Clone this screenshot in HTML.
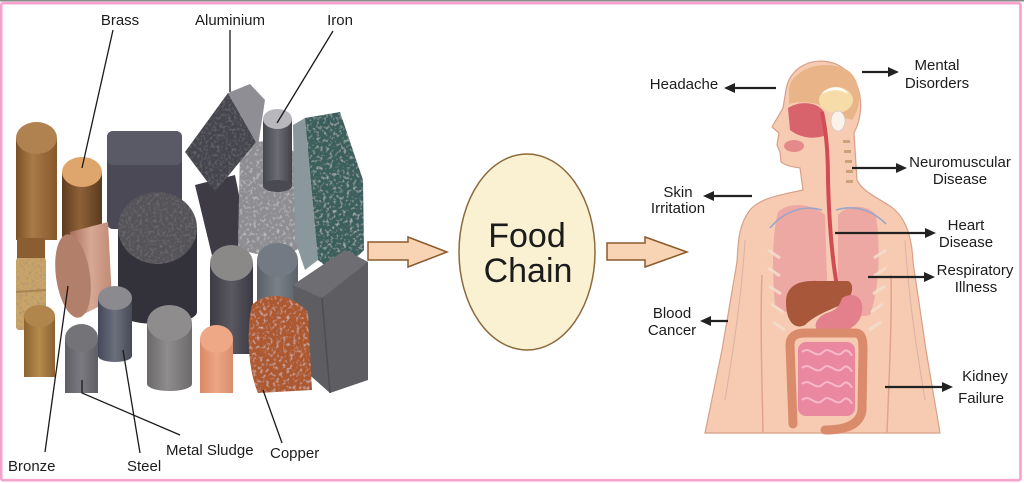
<!DOCTYPE html>
<html><head><meta charset="utf-8"><style>
html,body{margin:0;padding:0;background:#fff;}
body{width:1024px;height:483px;overflow:hidden;}
svg{display:block;}
text{font-family:"Liberation Sans",Arial,sans-serif;fill:#1c1c1c;}
</style></head><body>
<svg width="1024" height="483" viewBox="0 0 1024 483" xmlns="http://www.w3.org/2000/svg">
<defs>
<filter id="rough" x="0" y="0" width="100%" height="100%">
<feTurbulence type="fractalNoise" baseFrequency="0.35" numOctaves="2" seed="4" result="t"/>
<feColorMatrix in="t" type="matrix" values="0 0 0 0 0.22  0 0 0 0 0.22  0 0 0 0 0.22  1.3 0 0 0 -0.6" result="m"/>
<feComposite in="m" in2="SourceGraphic" operator="in" result="c"/>
<feMerge><feMergeNode in="SourceGraphic"/><feMergeNode in="c"/></feMerge>
</filter>
<filter id="light" x="0" y="0" width="100%" height="100%">
<feTurbulence type="fractalNoise" baseFrequency="0.3" numOctaves="2" seed="9" result="t"/>
<feColorMatrix in="t" type="matrix" values="0 0 0 0 0.92  0 0 0 0 0.92  0 0 0 0 0.92  1.2 0 0 0 -0.62" result="m"/>
<feComposite in="m" in2="SourceGraphic" operator="in" result="c"/>
<feMerge><feMergeNode in="SourceGraphic"/><feMergeNode in="c"/></feMerge>
</filter>
<linearGradient id="gBr1" x1="0" x2="1"><stop offset="0" stop-color="#7b5026"/><stop offset=".4" stop-color="#a97a47"/><stop offset="1" stop-color="#85582c"/></linearGradient>
<linearGradient id="gBrass" x1="0" x2="1"><stop offset="0" stop-color="#5e3c20"/><stop offset=".45" stop-color="#8e6238"/><stop offset="1" stop-color="#5a3a1e"/></linearGradient>
<linearGradient id="gBronze" x1="0" x2="1"><stop offset="0" stop-color="#a9705c"/><stop offset=".5" stop-color="#d7a894"/><stop offset="1" stop-color="#c08a76"/></linearGradient>
<linearGradient id="gSteel" x1="0" x2="1"><stop offset="0" stop-color="#44485a"/><stop offset=".5" stop-color="#6c707c"/><stop offset="1" stop-color="#474a56"/></linearGradient>
<linearGradient id="gIron" x1="0" x2="1"><stop offset="0" stop-color="#45454d"/><stop offset=".5" stop-color="#6c6c74"/><stop offset="1" stop-color="#42424a"/></linearGradient>
<linearGradient id="gGray" x1="0" x2="1"><stop offset="0" stop-color="#6a6868"/><stop offset=".45" stop-color="#8e8c8c"/><stop offset="1" stop-color="#6c6a6a"/></linearGradient>
<linearGradient id="gDark" x1="0" x2="1"><stop offset="0" stop-color="#3c3a42"/><stop offset=".5" stop-color="#5a5860"/><stop offset="1" stop-color="#3a3840"/></linearGradient>
<linearGradient id="gOr" x1="0" x2="1"><stop offset="0" stop-color="#d88a66"/><stop offset=".5" stop-color="#eea584"/><stop offset="1" stop-color="#d88e6c"/></linearGradient>
<linearGradient id="gSl" x1="0" x2="1"><stop offset="0" stop-color="#5e5e64"/><stop offset=".5" stop-color="#7a7a80"/><stop offset="1" stop-color="#5e5e64"/></linearGradient>
<linearGradient id="gBl" x1="0" x2="1"><stop offset="0" stop-color="#5a6068"/><stop offset=".5" stop-color="#7a8088"/><stop offset="1" stop-color="#5c6268"/></linearGradient>
<linearGradient id="gBr2" x1="0" x2="1"><stop offset="0" stop-color="#8d6430"/><stop offset=".5" stop-color="#b58a4c"/><stop offset="1" stop-color="#8a6230"/></linearGradient>
</defs>

<rect width="1024" height="483" fill="#fff"/>
<rect x="0" y="0" width="1024" height="1.5" fill="#8a8a8a"/>
<rect x="1.2" y="3.2" width="1019.3" height="477" rx="2" fill="none" stroke="#f7a2cc" stroke-width="2.6"/>

<!-- ===== METALS ===== -->
<rect x="16" y="138" width="41" height="102" fill="url(#gBr1)"/>
<ellipse cx="36.5" cy="138" rx="20.5" ry="16" fill="#b0824f"/>
<rect x="17" y="238" width="28" height="22" fill="#8a5e30"/>
<rect x="16" y="258" width="30" height="72" rx="3" fill="#c9a468" filter="url(#rough)"/>
<line x1="16" y1="292" x2="46" y2="290" stroke="#a88450" stroke-width="2"/>
<!-- dark gray block -->
<rect x="107" y="131" width="75" height="98" rx="6" fill="#4a4955"/>
<rect x="107" y="131" width="75" height="34" rx="6" fill="#5a5966"/>
<!-- dark lying cylinder -->
<polygon points="195,185 235,175 250,250 215,268" fill="#3e3b45"/>
<!-- crumpled gray -->
<path d="M240,150 C255,135 290,140 300,160 L302,246 C290,258 250,258 238,246 Z" fill="#8e8e92" filter="url(#light)"/>
<!-- aluminium block -->
<polygon points="185,152 228,93 256,142 215,192" fill="#45444e" filter="url(#rough)"/>
<polygon points="228,93 250,84 265,100 258,146 256,142" fill="#8e8e94"/>
<!-- iron cylinder -->
<rect x="263" y="119" width="29" height="67" fill="url(#gIron)"/>
<ellipse cx="277.5" cy="186" rx="14.5" ry="6" fill="#4a4a52"/>
<ellipse cx="277.5" cy="119" rx="14.5" ry="10" fill="#b8b8bc"/>
<!-- green crystal block -->
<polygon points="293,125 305,118 318,260 305,270 295,240" fill="#8a979c"/>
<polygon points="305,118 340,112 363,180 364,250 338,276 318,260" fill="#3a5e5c" filter="url(#light)"/>
<!-- brass -->
<rect x="62" y="172" width="40" height="70" fill="url(#gBrass)"/>
<ellipse cx="82" cy="172" rx="20" ry="15" fill="#dea66c"/>
<!-- graphite sponge -->
<path d="M118,228 L118,312 A39.5,12 0 0 0 197,312 L197,228 Z" fill="#33313a"/>
<ellipse cx="157.5" cy="228" rx="39.5" ry="36" fill="#555258" filter="url(#rough)"/>
<!-- bronze lying cylinder -->
<polygon points="70,232 108,222 112,300 76,318" fill="url(#gBronze)"/>
<ellipse cx="73" cy="276" rx="17" ry="42" transform="rotate(-8 73 276)" fill="#b27f6a"/>
<!-- blue-gray cylinder -->
<rect x="257" y="260" width="41" height="48" fill="url(#gBl)"/>
<ellipse cx="277.5" cy="260" rx="20.5" ry="17" fill="#737a83"/>
<!-- gray block bottom right -->
<polygon points="293,285 345,250 368,262 368,380 330,393 295,362" fill="#5e5d62"/>
<polygon points="293,285 345,250 368,262 322,298" fill="#6e6d72"/>
<line x1="322" y1="298" x2="330" y2="393" stroke="#4e4d52" stroke-width="1.5"/>
<!-- dark cylinder -->
<rect x="210" y="263" width="43" height="91" fill="url(#gDark)"/>
<ellipse cx="231.5" cy="263" rx="21.5" ry="18" fill="#8a8988"/>
<!-- brown cylinder lower left -->
<rect x="24" y="316" width="31" height="61" fill="url(#gBr2)"/>
<ellipse cx="39.5" cy="316" rx="15.5" ry="11" fill="#b0864c"/>
<!-- steel -->
<path d="M98,298 L98,356 A17,6 0 0 0 132,356 L132,298 Z" fill="url(#gSteel)"/>
<ellipse cx="115" cy="298" rx="17" ry="12" fill="#8b8b8f"/>
<!-- gray cylinder -->
<path d="M147,323 L147,384 A22.5,7 0 0 0 192,384 L192,323 Z" fill="url(#gGray)"/>
<ellipse cx="169.5" cy="323" rx="22.5" ry="18" fill="#8e8c8c"/>
<!-- metal sludge cylinder -->
<rect x="65" y="338" width="33" height="55" fill="url(#gSl)"/>
<ellipse cx="81.5" cy="338" rx="16.5" ry="14" fill="#747478"/>
<!-- orange cylinder -->
<rect x="200" y="339" width="33" height="54" fill="url(#gOr)"/>
<ellipse cx="216.5" cy="339" rx="16.5" ry="14" fill="#efa886"/>
<!-- copper crumpled -->
<path d="M252,305 C265,292 290,292 308,312 L312,390 L258,393 C248,370 246,330 252,305 Z" fill="#ad582f" filter="url(#light)"/>

<!-- left connector lines -->
<g stroke="#1a1a1a" stroke-width="1.3" fill="none">
<line x1="113" y1="30" x2="82" y2="168"/>
<line x1="230" y1="30" x2="230" y2="92"/>
<line x1="333" y1="31" x2="277" y2="123"/>
<line x1="45" y1="452" x2="68" y2="286"/>
<line x1="140" y1="453" x2="123" y2="350"/>
<polyline points="82,380 82,393 180,435"/>
<line x1="282" y1="443" x2="263" y2="390"/>
</g>

<!-- left labels -->
<g font-size="15">
<text x="120" y="25" text-anchor="middle">Brass</text>
<text x="230" y="25" text-anchor="middle">Aluminium</text>
<text x="340" y="25" text-anchor="middle">Iron</text>
<text x="8" y="471">Bronze</text>
<text x="127" y="471">Steel</text>
<text x="166" y="455">Metal Sludge</text>
<text x="270" y="458">Copper</text>
</g>

<!-- ===== CENTER ===== -->
<polygon points="368,242 408,242 408,237 447,252 408,267 408,260 368,260" fill="#f9d4b4" stroke="#8b5a2b" stroke-width="1.5"/>
<ellipse cx="527" cy="252" rx="68" ry="98" fill="#faf0d2" stroke="#8c6a3c" stroke-width="1.5"/>
<text x="527" y="247" text-anchor="middle" font-size="34" fill="#111">Food</text>
<text x="528" y="282" text-anchor="middle" font-size="34" fill="#111">Chain</text>
<polygon points="607,243 645,243 645,237 687,252 645,267 645,260 607,260" fill="#f9d4b4" stroke="#8b5a2b" stroke-width="1.5"/>

<!-- ===== BODY ===== -->
<path d="M800,168 L803,190 C780,195 760,198 750,210 C738,225 738,245 737,262 L722,350 L705,433 L940,433 L926,350 L913,262 C912,235 905,216 890,206 C876,197 862,191 857,180 L854,133 C866,110 863,76 836,64 C812,55 789,68 786,90 L783,108 L772,127 L779,133 L777,145 L780,152 L781,162 C788,167 795,167 800,168 Z" fill="#f6cbb1" stroke="#d8a088" stroke-width="1.2"/>
<path d="M762,275 C760,320 762,380 763,433" stroke="#e0a48a" stroke-width="1.5" fill="none"/>
<path d="M891,275 C892,320 889,380 887,433" stroke="#e0a48a" stroke-width="1.5" fill="none"/>
<path d="M745,240 C742,290 735,340 725,400" stroke="#d9b2a8" stroke-width="1" fill="none"/>
<path d="M905,240 C908,290 915,340 925,400" stroke="#d9b2a8" stroke-width="1" fill="none"/>
<!-- lungs -->
<path d="M778,212 C790,200 815,205 825,215 L828,310 C810,318 790,318 775,305 C772,270 772,235 778,212 Z" fill="#eba2a2" opacity=".85"/>
<path d="M838,215 C848,203 868,205 876,215 C881,250 879,290 870,315 C855,318 842,315 838,305 Z" fill="#eba2a2" opacity=".85"/>
<!-- ribs -->
<g stroke="#f3dccc" stroke-width="3" opacity=".9">
<line x1="768" y1="250" x2="780" y2="258"/><line x1="768" y1="268" x2="780" y2="276"/><line x1="769" y1="286" x2="781" y2="294"/><line x1="771" y1="304" x2="783" y2="312"/><line x1="773" y1="322" x2="785" y2="330"/>
<line x1="886" y1="250" x2="874" y2="258"/><line x1="886" y1="268" x2="874" y2="276"/><line x1="885" y1="286" x2="873" y2="294"/><line x1="883" y1="304" x2="871" y2="312"/><line x1="881" y1="322" x2="869" y2="330"/>
</g>
<!-- brain -->
<path d="M789,88 C794,66 830,58 850,72 C863,85 861,108 852,120 L838,116 C822,102 803,100 789,104 Z" fill="#e9b487"/>
<ellipse cx="836" cy="100" rx="17" ry="13" fill="#f6dca8"/>
<path d="M822,94 C828,85 844,85 848,94 C841,89 830,89 822,94 Z" fill="#fff"/>
<!-- nasal / throat -->
<path d="M788,108 C800,100 818,102 824,112 L826,135 C815,140 800,138 790,130 Z" fill="#d8636c"/>
<ellipse cx="794" cy="146" rx="10" ry="6" fill="#e58a8a"/>
<ellipse cx="838" cy="121" rx="7" ry="10" fill="#fbf3ea" stroke="#ccc" stroke-width=".8"/>
<!-- spine -->
<g fill="#c9a27a"><rect x="843" y="140" width="7" height="3"/><rect x="844" y="150" width="7" height="3"/><rect x="845" y="160" width="7" height="3"/><rect x="846" y="170" width="7" height="3"/><rect x="846" y="180" width="7" height="3"/></g>
<!-- veins -->
<path d="M770,228 C785,210 805,205 822,210" stroke="#9aa6c8" stroke-width="1.6" fill="none"/>
<path d="M836,210 C852,205 870,208 886,224" stroke="#9aa6c8" stroke-width="1.6" fill="none"/>
<!-- esophagus -->
<path d="M822,112 C826,130 828,150 828,180 C829,220 832,260 838,292" stroke="#d24c55" stroke-width="4" fill="none"/>
<!-- liver -->
<path d="M786,302 C786,285 800,280 818,281 L848,281 C855,283 853,298 843,304 C830,310 815,315 805,325 C795,330 786,322 786,302 Z" fill="#a9573b"/>
<!-- stomach -->
<path d="M842,298 C856,290 866,300 861,316 C856,331 835,336 818,331 C812,325 818,315 830,312 C838,309 840,304 842,298 Z" fill="#e47f8c"/>
<!-- colon -->
<path d="M793,424 L790,345 C790,337 795,333 805,333 L855,333 C862,333 863,340 863,350 L862,410 C860,425 845,430 825,430" stroke="#d98b6b" stroke-width="9" fill="none" stroke-linecap="round"/>
<!-- small intestine -->
<rect x="798" y="342" width="57" height="74" rx="8" fill="#e9889f"/>
<g stroke="#f7b8ca" stroke-width="2" fill="none">
<path d="M802,352 C810,345 815,360 823,352 C830,345 836,360 843,352 C848,347 852,356 852,356"/>
<path d="M802,368 C810,361 815,376 823,368 C830,361 836,376 843,368 C848,363 852,372 852,372"/>
<path d="M802,384 C810,377 815,392 823,384 C830,377 836,392 843,384 C848,379 852,388 852,388"/>
<path d="M802,400 C810,393 815,408 823,400 C830,393 836,408 843,400 C848,395 852,404 852,404"/>
</g>

<!-- right arrows -->
<g stroke="#222" stroke-width="2.2">
<line x1="731" y1="88" x2="776" y2="88"/>
<line x1="862" y1="72" x2="891" y2="72"/>
<line x1="852" y1="168" x2="899" y2="168"/>
<line x1="710" y1="196" x2="752" y2="196"/>
<line x1="835" y1="233" x2="928" y2="233"/>
<line x1="868" y1="277" x2="927" y2="277"/>
<line x1="707" y1="321" x2="728" y2="321"/>
<line x1="885" y1="387" x2="945" y2="387"/>
</g>
<g fill="#222">
<polygon points="724,88 735,83 735,93"/>
<polygon points="899,72 888,67 888,77"/>
<polygon points="907,168 896,163 896,173"/>
<polygon points="703,196 714,191 714,201"/>
<polygon points="936,233 925,228 925,238"/>
<polygon points="935,277 924,272 924,282"/>
<polygon points="700,321 711,316 711,326"/>
<polygon points="953,387 942,382 942,392"/>
</g>

<!-- right labels -->
<g font-size="15" text-anchor="middle">
<text x="684" y="89">Headache</text>
<text x="937" y="70">Mental</text>
<text x="937" y="88">Disorders</text>
<text x="960" y="167">Neuromuscular</text>
<text x="960" y="184">Disease</text>
<text x="678" y="197">Skin</text>
<text x="678" y="213">Irritation</text>
<text x="966" y="230">Heart</text>
<text x="966" y="247">Disease</text>
<text x="975" y="275">Respiratory</text>
<text x="976" y="292">Illness</text>
<text x="672" y="318">Blood</text>
<text x="672" y="335">Cancer</text>
<text x="985" y="381">Kidney</text>
<text x="981" y="403">Failure</text>
</g>
</svg>
</body></html>
